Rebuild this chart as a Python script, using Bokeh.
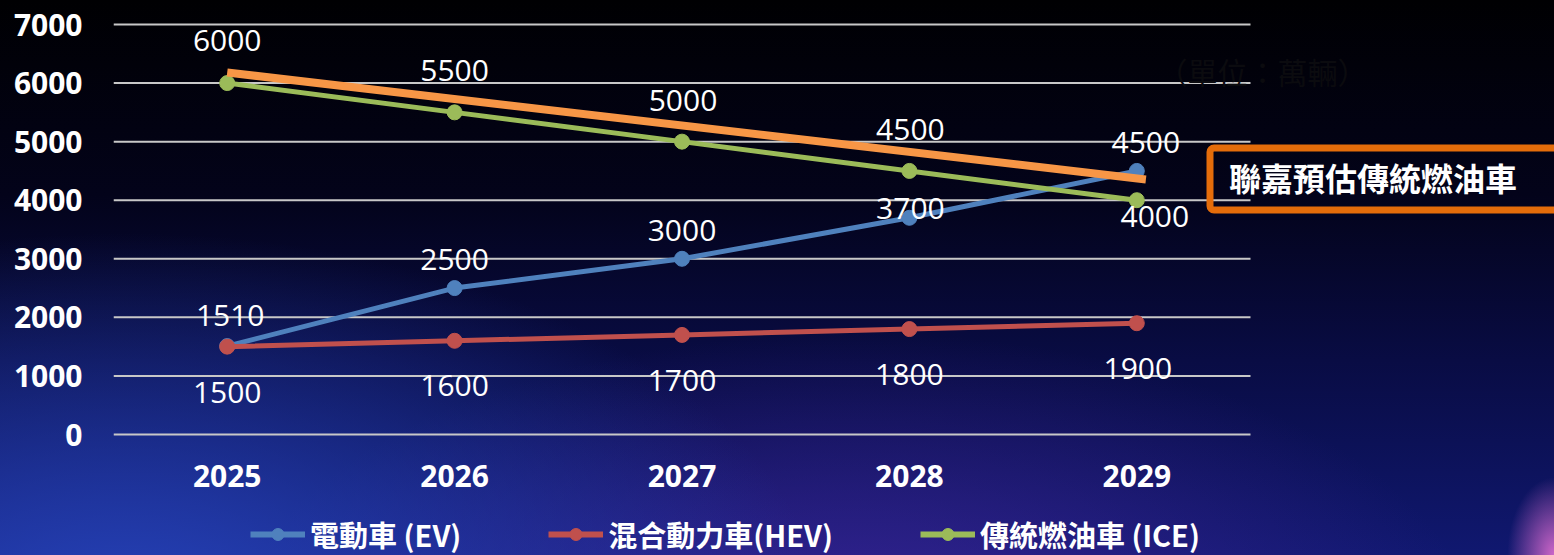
from bokeh.plotting import figure
from bokeh.layouts import column
from bokeh.models import (Range1d, FixedTicker, Label, Legend, LegendItem,
                          ColumnDataSource)
from bokeh.core.properties import value
from bokeh.embed import file_html
from bokeh.resources import INLINE

# ---------------- data ----------------
years = ["2025", "2026", "2027", "2028", "2029"]
ev = [1510, 2500, 3000, 3700, 4500]
hev = [1500, 1600, 1700, 1800, 1900]
ice = [6000, 5500, 5000, 4500, 4000]
forecast_pos = [0, 4.04]          # category index positions of the forecast line ends
forecast_val = [6180, 4355]
y_ticks = [0, 1000, 2000, 3000, 4000, 5000, 6000, 7000]
series_names = ["電動車 (EV)", "混合動力車(HEV)", "傳統燃油車 (ICE)"]
annotation_text = "聯嘉預估傳統燃油車"
unit_text = "（單位：萬輛）"

# ---------------- layout helpers (pixels) ----------------
W, H = 1554, 555
H_LEG = 50
H_MAIN = H - H_LEG
F_LEFT, F_RIGHT, F_TOP, F_BOTTOM = 113, 1554, 14, 444
PLOT_RIGHT = 1250
Y0_PX, Y7000_PX = 434, 24
ys = (Y0_PX - Y7000_PX) / 7000.0
y_start = 0 - (F_BOTTOM - Y0_PX) / ys
y_end = 7000 + (Y7000_PX - F_TOP) / ys
xs = (PLOT_RIGHT - F_LEFT) / 5.0


def px_x(px):
    return (px - F_LEFT) / xs - 0.5


def px_y(py):
    return y_start + (F_BOTTOM - py) / ys


xpos = list(range(len(years)))

BLUE, RED, GREEN, ORANGE, BOX = "#4F81BD", "#C0504D", "#9BBB59", "#F79646", "#E46C0A"
NUM_FONT = "Open Sans"
CJK_FONT = "Noto Sans CJK TC"

p = figure(width=W, height=H_MAIN, x_range=Range1d(-0.5, px_x(F_RIGHT)),
           y_range=Range1d(y_start, y_end),
           output_backend="svg", toolbar_location=None,
           min_border_left=F_LEFT, min_border_right=0,
           min_border_top=F_TOP, min_border_bottom=H_MAIN - F_BOTTOM)
p.background_fill_color = None
p.border_fill_color = None
p.outline_line_color = None

# axes
p.xaxis.ticker = FixedTicker(ticks=xpos)
p.xaxis.major_label_overrides = {i: y for i, y in enumerate(years)}
p.yaxis.ticker = FixedTicker(ticks=y_ticks)
for ax in (p.xaxis[0], p.yaxis[0]):
    ax.axis_line_color = None
    ax.major_tick_line_color = None
    ax.minor_tick_line_color = None
    ax.major_tick_out = 0
    ax.major_label_text_color = "white"
    ax.major_label_text_font = NUM_FONT
    ax.major_label_text_font_size = "30px"
    ax.major_label_text_font_style = "bold"
p.xaxis.major_label_standoff = 20
p.yaxis.major_label_standoff = 31

p.xgrid.grid_line_color = None
p.ygrid.grid_line_color = None

# horizontal gridlines, limited to the plotting area of the categories
p.segment(x0=[-0.5] * len(y_ticks), x1=[4.5] * len(y_ticks), y0=y_ticks, y1=y_ticks,
          line_color="#c8c8c8", line_width=2)

# series
styles = [(ev, BLUE), (hev, RED), (ice, GREEN)]
for vals, col in styles:
    p.line(xpos, vals, line_color=col, line_width=5)
    p.scatter(xpos, vals, size=15, fill_color=col, line_color=col)

# forecast line
p.line(forecast_pos, forecast_val, line_color=ORANGE, line_width=8)

# data labels (offsets in screen pixels, positive = down)
ev_dx, ev_dy = [3, 0, 0, 1, 9], [-31, -29, -28, -9, -28]
hev_dx, hev_dy = [0, 0, 0, 0, 1], [46, 45, 46, 45, 45]
ice_dx, ice_dy = [0, 0, 1, 1, 18], [-43, -42, -41, -41, 16]
for vals, dx, dy in ((ev, ev_dx, ev_dy), (hev, hev_dx, hev_dy), (ice, ice_dx, ice_dy)):
    src = ColumnDataSource(dict(x=xpos, y=vals, t=[str(v) for v in vals], dx=dx, dy=dy))
    p.text(x="x", y="y", text="t", x_offset="dx", y_offset="dy", source=src,
           text_color="white", text_font=value(NUM_FONT), text_font_size="30px",
           text_align="center", text_baseline="middle")

# unit text (almost invisible in the reference)
p.add_layout(Label(x=px_x(1262), y=px_y(70), text=unit_text, text_align="center",
                   text_baseline="middle", text_color="#0b0b0f",
                   text_font=CJK_FONT, text_font_size="30px"))

# annotation box
p.add_layout(Label(x=px_x(1209.5), y=px_y(147.5), text=annotation_text,
                   anchor="top_left", text_align="left", text_baseline="top",
                   text_color="white", text_font=CJK_FONT, text_font_size="32px",
                   text_font_style="bold",
                   border_line_color=BOX, border_line_width=7,
                   background_fill_color=None,
                   padding=dict(left=19, right=90, top=6, bottom=10),
                   border_radius=4))

# ---------------- legend strip ----------------
pl = figure(width=W, height=H_LEG, x_range=Range1d(0, 1), y_range=Range1d(0, 1),
            output_backend="svg", toolbar_location=None,
            x_axis_location=None, y_axis_location=None,
            min_border_left=0, min_border_right=0, min_border_top=0, min_border_bottom=0)
pl.background_fill_color = None
pl.border_fill_color = None
pl.outline_line_color = None
pl.xgrid.grid_line_color = None
pl.ygrid.grid_line_color = None

items = []
for name, (vals, col) in zip(series_names, styles):
    # legend proxies: a single point placed outside the visible range
    lr = pl.line([-5, -4], [-5, -5], line_color=col, line_width=6)
    sr = pl.scatter([-5], [-5], size=15, fill_color=col, line_color=col)
    items.append(LegendItem(label=name, renderers=[lr, sr]))

legend = Legend(items=items, orientation="horizontal", location=(250 - F_LEFT, 0),
                glyph_width=55, glyph_height=30, label_height=28, label_standoff=5,
                spacing=87, padding=0, margin=0,
                border_line_color=None, background_fill_color=None,
                label_text_color="white", label_text_font=CJK_FONT,
                label_text_font_size="29px", label_text_font_style="bold")
pl.add_layout(legend, "center")

page = column(p, pl, spacing=0)
page.styles = {
    "background": (
        "radial-gradient(ellipse 3% 14% at 100% 100%, rgba(225,110,210,0.9), rgba(0,0,0,0) 100%),"
        "radial-gradient(ellipse 45% 70% at 8% 112%, rgba(40,70,190,0.95), rgba(0,0,0,0) 100%),"
        "radial-gradient(ellipse 40% 55% at 55% 115%, rgba(70,40,160,0.7), rgba(0,0,0,0) 100%),"
        "linear-gradient(to bottom, #000002 0%, #03031a 35%, #090c44 65%, #101870 100%)"
    ),
}

open("out.html", "w").write(file_html(page, INLINE))
